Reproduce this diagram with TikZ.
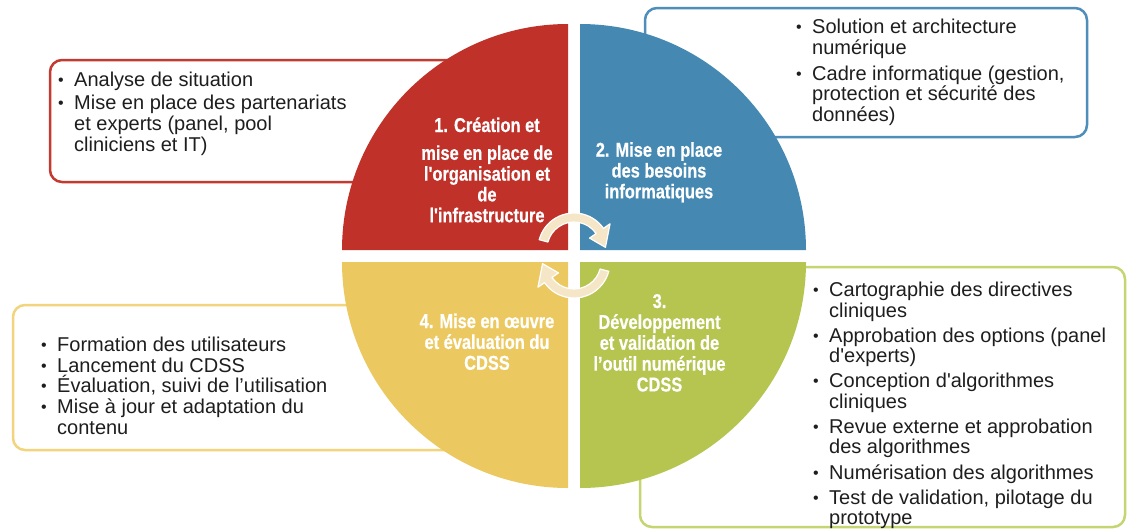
\documentclass[tikz,border=0pt]{standalone}
\usepackage{fontspec}
\setmainfont{Liberation Sans}[Ligatures=TeXOff]
\newfontfamily\labelfont{Liberation Sans}[FakeStretch=0.82,FakeBold=0.5,Ligatures=TeXOff]
\usetikzlibrary{calc}

\definecolor{qred}{HTML}{C0312A}
\definecolor{qblue}{HTML}{4589B3}
\definecolor{qyellow}{HTML}{ECC960}
\definecolor{qgreen}{HTML}{B5C550}
\definecolor{bred}{HTML}{C23A30}
\definecolor{bblue}{HTML}{4F8DBA}
\definecolor{byellow}{HTML}{F1D47C}
\definecolor{bgreen}{HTML}{C4D571}
\definecolor{cream}{HTML}{F5E6C8}
\definecolor{ink}{HTML}{1E1E1E}

\newcommand{\bul}{\makebox[16pt][l]{\raisebox{1pt}{\fontsize{16}{16}\selectfont •}}}

\begin{document}
\begin{tikzpicture}[x=1pt,y=-1pt,
  infobox/.style={rounded corners=12pt, line width=2.5pt, fill=white},
  bullets/.style={anchor=base west, inner sep=0pt, text=ink},
  phase/.style={anchor=base, inner sep=0pt, text=white,
    font=\labelfont\bfseries\fontsize{20}{20.8}\selectfont},
  turn/.style={fill=cream, draw=white, line width=1.2pt, line join=round}]
\useasboundingbox[fill=white] (0,0) rectangle (1128,531);

% text boxes, partly hidden under the disc
\draw[infobox, draw=bred]    (50,60)   rectangle (500,182);
\draw[infobox, draw=bblue]   (645,8)   rectangle (1087,137);
\draw[infobox, draw=byellow] (13,305)  rectangle (480,450);
\draw[infobox, draw=bgreen]  (640,267) rectangle (1125,527);

% the four quarters of the disc
\fill[qred]    (568,250) -- (342,250) arc[start angle=180,end angle=270,radius=226] -- cycle;
\fill[qblue]   (580,250) -- (580,24)  arc[start angle=270,end angle=360,radius=226] -- cycle;
\fill[qgreen]  (580,262) -- (806,262) arc[start angle=0,end angle=90,radius=226] -- cycle;
\fill[qyellow] (568,262) -- (568,488) arc[start angle=90,end angle=180,radius=226] -- cycle;

% phase titles
\node[phase] (p1) at (487,132) {\begin{tabular}[t]{@{}c@{}}1. Création et\\[7pt] mise en place de\\ l'organisation et\\ de\\ l'infrastructure\end{tabular}};
\node[phase] (p2) at (659,156.7) {\begin{tabular}[t]{@{}c@{}}2. Mise en place\\ des besoins\\ informatiques\end{tabular}};
\node[phase] (p3) at (659.5,308) {\begin{tabular}[t]{@{}c@{}}3.\\ Développement\\ et validation de\\ l’outil numérique\\ CDSS\end{tabular}};
\node[phase] (p4) at (487,328) {\begin{tabular}[t]{@{}c@{}}4. Mise en œuvre\\ et évaluation du\\ CDSS\end{tabular}};

% circular arrows in the middle
\coordinate (tc) at (574,249);
\coordinate (bc) at (574,262);
\filldraw[turn] ($(tc)+(195:36)$) arc[start angle=195,end angle=325,radius=36]
  -- ($(tc)+(325:44)$) -- ($(tc)+(357:31.5)$) -- ($(tc)+(325:19)$)
  -- ($(tc)+(325:27)$) arc[start angle=325,end angle=195,radius=27] -- cycle;
\filldraw[turn] ($(bc)+(15:36)$) arc[start angle=15,end angle=145,radius=36]
  -- ($(bc)+(145:44)$) -- ($(bc)+(177:31.5)$) -- ($(bc)+(145:19)$)
  -- ($(bc)+(145:27)$) arc[start angle=145,end angle=15,radius=27] -- cycle;

% bullet lists
\node[bullets, font=\fontsize{20}{21}\selectfont] (t1) at (58,86)
  {\begin{tabular}[t]{@{}l@{}l@{}}\bul & Analyse de situation\\[2.3pt]
   \bul & Mise en place des partenariats\\ & et experts (panel, pool\\ & cliniciens et IT)\end{tabular}};
\node[bullets, font=\fontsize{20}{20}\selectfont] (t2) at (796,33.3)
  {\begin{tabular}[t]{@{}l@{}l@{}}\bul & Solution et architecture\\ & numérique\\[5.7pt]
   \bul & Cadre informatique (gestion,\\ & protection et sécurité des\\ & données)\end{tabular}};
\node[bullets, font=\fontsize{20}{20.6}\selectfont] (t4) at (41,351.7)
  {\begin{tabular}[t]{@{}l@{}l@{}}\bul & Formation des utilisateurs\\
   \bul & Lancement du CDSS\\
   \bul & \smash{Évaluation, suivi de l’utilisation}\\
   \bul & Mise à jour et adaptation du\\ & contenu\end{tabular}};
\node[bullets, font=\fontsize{20}{19.8}\selectfont] (t3) at (813,296.7)
  {\begin{tabular}[t]{@{}l@{}l@{}}\bul & Cartographie des directives\\ & cliniques\\[4.7pt]
   \bul & Approbation des options (panel\\ & d'experts)\\[4.7pt]
   \bul & Conception d'algorithmes\\ & cliniques\\[4.7pt]
   \bul & Revue externe et approbation\\ & des algorithmes\\[4.7pt]
   \bul & Numérisation des algorithmes\\[4.7pt]
   \bul & Test de validation, pilotage du\\ & prototype\end{tabular}};
\end{tikzpicture}
\end{document}
